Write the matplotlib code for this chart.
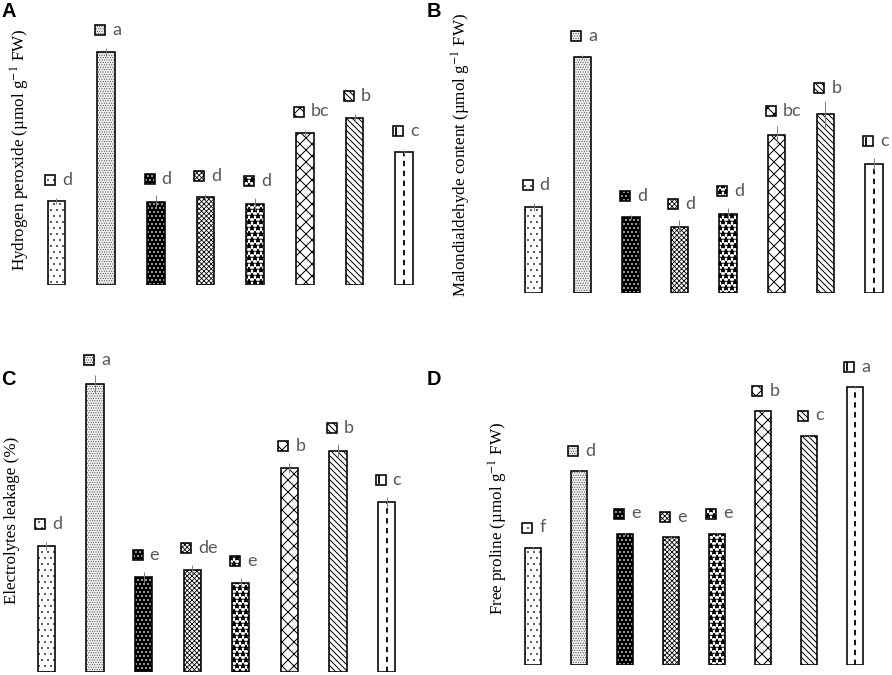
import matplotlib
matplotlib.use('Agg')
import matplotlib.pyplot as plt
import numpy as np
from matplotlib.patches import Rectangle
from matplotlib.lines import Line2D
from matplotlib.offsetbox import DrawingArea, AnnotationBbox

plt.rcParams['mathtext.fontset'] = 'stix'

# Bar heights (arbitrary units, no axis shown)
h2o2 = [84, 233, 83, 88, 81, 152, 167, 133]
h2o2_err = [3, 4, 7, 3, 6, 3, 4, 2]
h2o2_letters = ['d', 'a', 'd', 'd', 'd', 'bc', 'b', 'c']

mda = [86, 236, 76, 66, 79, 158, 179, 129]
mda_err = [4, 2, 2, 7, 6, 9, 13, 6]
mda_letters = ['d', 'a', 'd', 'd', 'd', 'bc', 'b', 'c']

leakage = [126, 288, 95, 102, 89, 204, 221, 170]
leakage_err = [4, 9, 5, 5, 5, 5, 7, 5]
leakage_letters = ['d', 'a', 'e', 'de', 'e', 'b', 'b', 'c']

proline = [117, 194, 131, 128, 131, 254, 229, 278]
proline_err = [1, 1, 1, 1, 1, 1, 1, 1]
proline_letters = ['f', 'd', 'e', 'e', 'e', 'b', 'c', 'a']

# one fill style per treatment: face colour, hatch colour, hatch, hatch line width
STYLES = [
    ('white', 'black', '..', 0.5),
    ('#ececec', '#333333', '.....', 0.5),
    ('black', 'white', '...', 0.8),
    ('white', 'black', 'xxxxx', 0.8),
    ('white', 'black', '**', 1.3),
    ('white', 'black', 'xx', 1.0),
    ('white', 'black', '\\' * 4, 1.0),
    ('white', 'black', '', 1.0),
]

LETTER_COLOR = '#595959'
W, H = 892, 675
fig = plt.figure(figsize=(W / 72, H / 72), dpi=72)


def make_icon(i):
    fc, hc, hatch, hlw = STYLES[i]
    da = DrawingArea(10, 10, 0, 0)
    with plt.rc_context({'hatch.linewidth': hlw}):
        da.add_artist(Rectangle((0, 0), 10, 10, facecolor=fc, edgecolor=hc, hatch=hatch, lw=0))
    if i == 7:
        da.add_artist(Line2D([3, 3], [1.5, 8.5], color='black', lw=1.8))
    da.add_artist(Rectangle((0, 0), 10, 10, fill=False, edgecolor='black', lw=1.6))
    return da


def panel(rect_px, heights, errs, letters, ylabel, label_xy, tag, tag_xy, width=0.355):
    left, bottom, w, h = rect_px
    ax = fig.add_axes([left / W, (H - bottom) / H, w / W, h / H])
    x = np.arange(len(heights))
    for i, (xi, hi) in enumerate(zip(x, heights)):
        fc, hc, hatch, hlw = STYLES[i]
        with plt.rc_context({'hatch.linewidth': hlw}):
            ax.bar(xi, hi, width, color=fc, edgecolor=hc, hatch=hatch, lw=0, zorder=2)
        ax.bar(xi, hi, width, fill=False, edgecolor='black', lw=1.6, zorder=3)
        if i == 7:
            ax.plot([xi, xi], [0, hi], color='black', lw=1.8, ls=(0, (3, 2.5)), zorder=2.5)
    ax.errorbar(x, heights, yerr=errs, fmt='none', ecolor='#808080', elinewidth=1,
                capsize=0, zorder=4)
    for i, (xi, hi, ei, lt) in enumerate(zip(x, heights, errs, letters)):
        yl = hi + 0.5 * ei
        ab = AnnotationBbox(make_icon(i), (xi, yl), xybox=(-6, 20), xycoords='data',
                            boxcoords='offset points', frameon=False, pad=0,
                            annotation_clip=False)
        ax.add_artist(ab)
        ax.annotate(lt, (xi, yl), xytext=(6, 20), textcoords='offset points',
                    ha='left', va='center', fontsize=18, color=LETTER_COLOR,
                    family='Lato', annotation_clip=False)
    ax.set_xlim(-0.5, len(heights) - 0.5)
    ax.set_ylim(0, h)
    ax.axis('off')
    fig.text(label_xy[0] / W, 1 - label_xy[1] / H, ylabel, rotation=90, ha='center',
             va='center', fontsize=17, family='Liberation Serif')
    fig.text(tag_xy[0] / W, 1 - tag_xy[1] / H, tag, ha='left', va='baseline',
             fontsize=20, fontweight='bold', family='Liberation Sans')
    return ax


panel((31.5, 285, 397.6, 260), h2o2, h2o2_err, h2o2_letters,
      r'Hydrogen peroxide (µmol g$^{-1}$ FW)', (20, 150), 'A', (1, 17))
panel((509.4, 293.3, 388.8, 265), mda, mda_err, mda_letters,
      r'Malondialdehyde content (µmol g$^{-1}$ FW)', (461, 155), 'B', (427, 17))
panel((22, 672.3, 389, 320), leakage, leakage_err, leakage_letters,
      'Electrolytes leakage (%)', (12, 520), 'C', (1, 385))
panel((510.3, 665, 368, 300), proline, proline_err, proline_letters,
      r'Free proline (µmol g$^{-1}$ FW)', (498, 518), 'D', (427, 385))

fig.savefig('out.png', dpi=72, facecolor='white')
